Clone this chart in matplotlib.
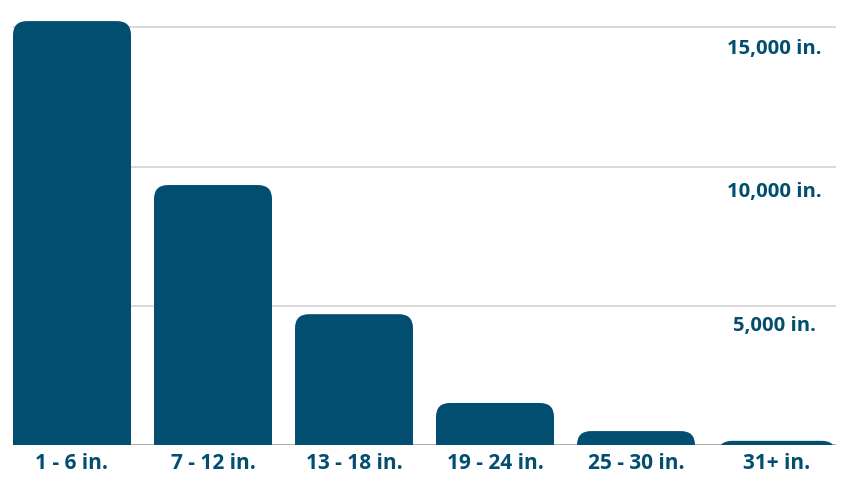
import matplotlib.pyplot as plt
from matplotlib.patches import FancyBboxPatch

# Data
categories = ['1 - 6 in.', '7 - 12 in.', '13 - 18 in.', '19 - 24 in.', '25 - 30 in.', '31+ in.']
values = [15230, 9340, 4700, 1510, 500, 150]
grid_values = [5000, 10000, 15000]
grid_labels = ['5,000 in.', '10,000 in.', '15,000 in.']

blue = '#024e71'
plt.rcParams['font.family'] = ['Open Sans', 'DejaVu Sans']

fig = plt.figure(figsize=(8.5, 4.78), dpi=100)
ax = fig.add_axes([1.5 / 850, 33 / 478, 846 / 850, 445 / 478])

ymax = 15988
px = ymax / 445  # data units per pixel (vertical)
ax.set_xlim(-0.5, len(categories) - 0.5)
ax.set_ylim(0, ymax)

bw = 118 / 141
# corner radius of ~14 px expressed in data units
rx = 14 / 141
ry = 14 * px

x_left = -bw / 2
x_right = len(categories) - 1 + bw / 2
ax.hlines(grid_values, x_left, x_right, colors='#d9d9d9', linewidth=1.4, zorder=1)
ax.hlines(0, x_left, x_right, colors='#aaaaaa', linewidth=1.4, zorder=1)

for i, v in enumerate(values):
    box = FancyBboxPatch((i - bw / 2, -2 * ry), bw, v + 2 * ry,
                         boxstyle=f'round,pad=0,rounding_size={rx}',
                         mutation_aspect=ry / rx,
                         facecolor=blue, edgecolor='none', zorder=2)
    ax.add_patch(box)

# gap between each gridline and its label, in pixels
label_gaps = [20, 25, 22]
for gv, gl, gap in zip(grid_values, grid_labels, label_gaps):
    ax.text(len(categories) - 1 - 0.018, gv - gap * px, gl, ha='center', va='center',
            fontsize=14.6, fontweight='bold', color=blue, zorder=3)

ax.set_xticks(range(len(categories)))
ax.set_xticklabels(categories, fontsize=15, fontweight='bold', color=blue)
ax.tick_params(axis='x', length=0, pad=5.5)
ax.set_yticks([])
for s in ax.spines.values():
    s.set_visible(False)

fig.savefig('out.png', dpi=100, facecolor='white')
